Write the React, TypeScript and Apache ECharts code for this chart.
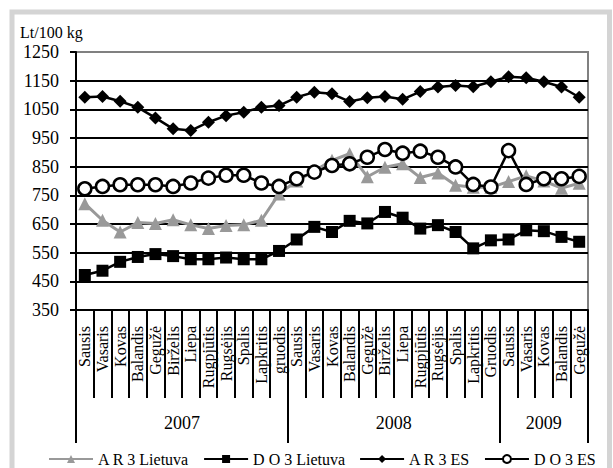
import React, { useEffect, useRef } from 'react';
import * as echarts from 'echarts';

const monthLabels = [
  'Sausis', 'Vasaris', 'Kovas', 'Balandis', 'Gegužė', 'Birželis', 'Liepa', 'Rugpjūtis', 'Rugsėjis', 'Spalis', 'Lapkritis', 'gruodis',
  'Sausis', 'Vasaris', 'Kovas', 'Balandis', 'Gegužė', 'Birželis', 'Liepa', 'Rugpjūtis', 'Rugsėjis', 'Spalis', 'Lapkritis', 'Gruodis',
  'Sausis', 'Vasaris', 'Kovas', 'Balandis', 'Gegužė',
];
const yearLabels = ['2007', '2008', '2009'];
const yearMonthCounts = [12, 12, 5];
const seriesNames = ['A R 3 Lietuva', 'D O 3 Lietuva', 'A R 3 ES', 'D O 3 ES'];
const yAxisName = 'Lt/100 kg';

const ar3Lietuva = [721, 663, 622, 655, 652, 665, 647, 634, 645, 647, 663, 755, 800, 835, 872, 895, 815, 848, 860, 812, 828, 785, 778, 778, 798, 818, 800, 775, 792];
const do3Lietuva = [472, 487, 518, 535, 545, 538, 527, 527, 533, 527, 527, 556, 596, 640, 622, 661, 652, 692, 672, 634, 646, 622, 565, 593, 596, 628, 625, 605, 588];
const ar3ES = [1092, 1095, 1078, 1057, 1020, 982, 976, 1005, 1028, 1040, 1057, 1063, 1092, 1110, 1104, 1077, 1090, 1095, 1085, 1112, 1128, 1133, 1129, 1146, 1164, 1160, 1146, 1128, 1092];
const do3ES = [773, 781, 787, 787, 787, 781, 793, 810, 820, 820, 793, 781, 808, 831, 854, 860, 883, 910, 897, 904, 883, 849, 788, 779, 906, 788, 808, 808, 816];

const yMin = 350;
const yMax = 1250;
const yInterval = 100;

const FONT = 'Liberation Serif';

export default function App() {
  const ref = useRef<HTMLDivElement>(null);

  useEffect(() => {
    if (!ref.current) return;
    const chart = echarts.init(ref.current, null, { renderer: 'svg' });

    const boundaries: number[] = [0];
    yearMonthCounts.forEach((c) => boundaries.push(boundaries[boundaries.length - 1] + c));
    const centers = yearMonthCounts.map((c, i) => boundaries[i] + c / 2);
    const total = boundaries[boundaries.length - 1];

    const nLines = (yMax - yMin) / yInterval + 1;
    const splitColors = Array.from({ length: nLines }, (_, i) => (i === nLines - 1 ? '#808080' : '#000000'));

    chart.setOption({
      animation: false,
      backgroundColor: '#ffffff',
      textStyle: { fontFamily: FONT },
      grid: {
        left: 76,
        right: 25,
        top: 52,
        bottom: 158,
        show: true,
        borderColor: '#808080',
        borderWidth: 2,
        containLabel: false,
      },
      graphic: [
        {
          type: 'rect',
          shape: { x: 12, y: 12, width: 597.5, height: 480 },
          style: { fill: 'none', stroke: '#d4d4d4', lineWidth: 5 },
          silent: true,
        },
        {
          type: 'text',
          left: 20,
          top: 24,
          style: { text: yAxisName, fontSize: 16, fontFamily: FONT, fill: '#000' },
        },
      ],
      legend: {
        left: 43,
        top: 446,
        width: 570,
        itemWidth: 44,
        itemHeight: 10,
        itemGap: 14,
        textStyle: { fontSize: 16, fontFamily: FONT, color: '#000' },
        data: seriesNames,
      },
      xAxis: [
        {
          type: 'category',
          data: monthLabels.map((_, i) => String(i)),
          boundaryGap: true,
          axisLine: { show: true, lineStyle: { color: '#000', width: 2 } },
          axisTick: { show: true, interval: 0, length: 88, lineStyle: { color: '#000', width: 2 } },
          axisLabel: {
            interval: 0,
            rotate: 90,
            margin: 16,
            fontSize: 16,
            fontFamily: FONT,
            color: '#000',
            formatter: (_v: string, idx: number) => monthLabels[idx],
          },
          splitLine: { show: false },
        },
        {
          type: 'value',
          min: 0,
          max: total,
          position: 'bottom',
          axisLine: { show: false },
          axisTick: {
            show: true,
            customValues: boundaries,
            length: 133,
            lineStyle: { color: '#000', width: 2 },
          },
          axisLabel: {
            show: true,
            customValues: centers,
            margin: 104,
            fontSize: 18,
            fontFamily: FONT,
            color: '#000',
            formatter: (v: number) => {
              const idx = centers.findIndex((c) => Math.abs(c - v) < 1e-6);
              return idx >= 0 ? yearLabels[idx] : '';
            },
          },
          splitLine: { show: false },
        },
      ],
      yAxis: {
        type: 'value',
        min: yMin,
        max: yMax,
        interval: yInterval,
        axisLine: { show: true, lineStyle: { color: '#000', width: 2 } },
        axisTick: { show: true, length: 6, lineStyle: { color: '#000', width: 2 } },
        axisLabel: {
          margin: 17,
          fontSize: 18,
          fontFamily: FONT,
          color: '#000',
          formatter: (v: number) => String(v),
        },
        splitLine: { show: true, lineStyle: { color: splitColors, width: 2 } },
      },
      series: [
        {
          name: seriesNames[0],
          type: 'line',
          data: ar3Lietuva,
          symbol: 'triangle',
          symbolSize: 13,
          lineStyle: { color: '#999999', width: 3 },
          itemStyle: { color: '#999999' },
        },
        {
          name: seriesNames[1],
          type: 'line',
          data: do3Lietuva,
          symbol: 'rect',
          symbolSize: 12,
          lineStyle: { color: '#000', width: 2.5 },
          itemStyle: { color: '#000' },
        },
        {
          name: seriesNames[2],
          type: 'line',
          data: ar3ES,
          symbol: 'diamond',
          symbolSize: 13,
          lineStyle: { color: '#000', width: 2.5 },
          itemStyle: { color: '#000' },
        },
        {
          name: seriesNames[3],
          type: 'line',
          data: do3ES,
          symbol: 'circle',
          symbolSize: 13,
          lineStyle: { color: '#000', width: 2.5 },
          itemStyle: { color: '#fff', borderColor: '#000', borderWidth: 2.5 },
        },
      ],
    });

    return () => chart.dispose();
  }, []);

  return (
    <div
      ref={ref}
      style={{ position: 'fixed', left: 0, top: 0, width: 613, height: 468, background: '#fff' }}
    />
  );
}
